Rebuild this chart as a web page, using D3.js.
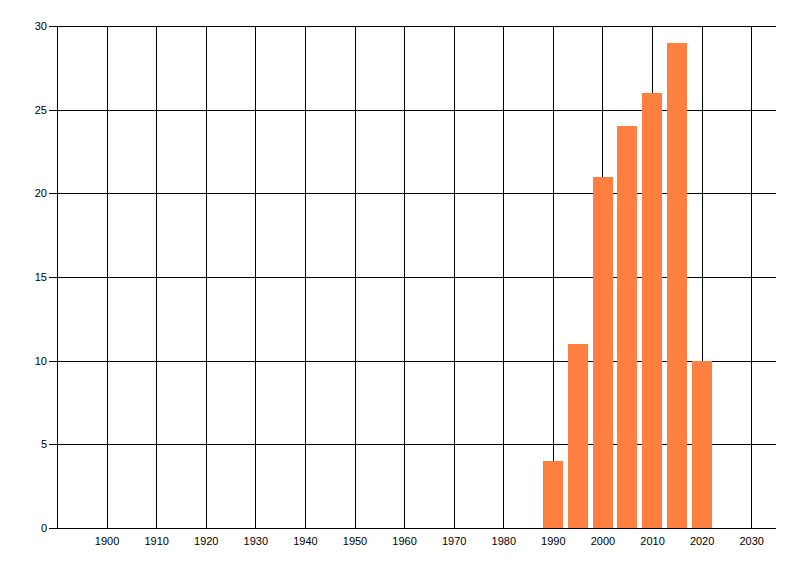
<!DOCTYPE html>
<html>
<head>
<meta charset="utf-8">
<script src="https://cdn.jsdelivr.net/npm/d3@7"></script>
<style>
  body { margin: 0; background: #fff; }
  text { font-family: "Liberation Sans", Arial, sans-serif; font-size: 11px; fill: #000; }
</style>
</head>
<body>
<svg class="chart" width="800" height="576"></svg>
<script>
// Data
const years = [1990, 1995, 2000, 2005, 2010, 2015, 2020];
const counts = [4, 11, 21, 24, 26, 29, 10];
const xTicks = [1900, 1910, 1920, 1930, 1940, 1950, 1960, 1970, 1980, 1990, 2000, 2010, 2020, 2030];
const yTicks = [0, 5, 10, 15, 20, 25, 30];

const margin = { top: 26, right: 24, bottom: 48, left: 57 };
const width = 800 - margin.left - margin.right;
const height = 576 - margin.top - margin.bottom;

const svg = d3.select(".chart")
    .append("g")
    .attr("transform", `translate(${margin.left},${margin.top})`);

// Scales
const x = d3.scaleLinear().domain([1890, 2035]).range([0, width]);
const y = d3.scaleLinear().domain([0, 30]).range([height, 0]);

// Grid lines, snapped to pixel centres so they stay crisp
svg.append("g")
    .selectAll("line")
    .data(xTicks)
    .enter()
    .append("line")
    .attr("x1", (d) => Math.round(x(d)) + 0.5)
    .attr("x2", (d) => Math.round(x(d)) + 0.5)
    .attr("y1", 0)
    .attr("y2", height)
    .style("stroke", "#000")
    .style("shape-rendering", "crispEdges");

svg.append("g")
    .selectAll("line")
    .data(yTicks)
    .enter()
    .append("line")
    .attr("x1", -8)
    .attr("x2", width)
    .attr("y1", (d) => Math.round(y(d)) + 0.5)
    .attr("y2", (d) => Math.round(y(d)) + 0.5)
    .style("stroke", "#000")
    .style("shape-rendering", "crispEdges");

// Bars
svg.selectAll("rect")
    .data(years)
    .enter()
    .append("rect")
    .attr("x", (d) => Math.round(x(d - 2)))
    .attr("width", Math.round(x(4) - x(0)))
    .attr("y", (d, i) => Math.round(y(counts[i])))
    .attr("height", (d, i) => height - Math.round(y(counts[i])))
    .style("fill", "#ff7f41")
    .style("shape-rendering", "crispEdges");

// Left axis line
svg.append("line")
    .attr("x1", 0.5).attr("x2", 0.5)
    .attr("y1", 0).attr("y2", height + 1)
    .style("stroke", "#000")
    .style("shape-rendering", "crispEdges");

// Axis labels
svg.append("g")
    .selectAll("text")
    .data(yTicks)
    .enter()
    .append("text")
    .attr("x", -10)
    .attr("y", (d) => y(d))
    .attr("dy", "0.35em")
    .attr("text-anchor", "end")
    .text((d) => d);

svg.append("g")
    .selectAll("text")
    .data(xTicks)
    .enter()
    .append("text")
    .attr("x", (d) => x(d) + 0.5)
    .attr("y", height + 13)
    .attr("dy", "0.35em")
    .attr("text-anchor", "middle")
    .text((d) => d);
</script>
</body>
</html>
